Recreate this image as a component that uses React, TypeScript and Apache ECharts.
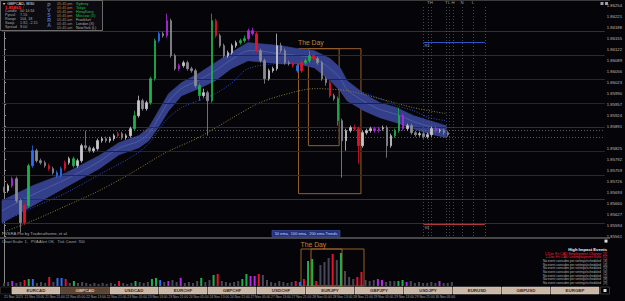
import React, { useEffect, useRef } from "react";
import * as echarts from "echarts";

// Prices are stored in points (0.00001) above BASE
const BASE = 1.85;
const SLOTS = 148; // chart slots incl. empty right margin (chart shift)

const timeLabels = [
  "21 Nov 2023", "21 Nov 13:00", "21 Nov 21:00", "22 Nov 05:00", "22 Nov 13:00", "22 Nov 21:00",
  "23 Nov 05:00", "23 Nov 13:00", "23 Nov 21:00", "24 Nov 05:00", "24 Nov 13:00", "24 Nov 21:00",
  "27 Nov 05:00", "27 Nov 13:00", "27 Nov 21:00", "28 Nov 05:00", "28 Nov 13:00", "28 Nov 21:00",
  "29 Nov 05:00", "29 Nov 13:00", "29 Nov 21:00", "30 Nov 05:00",
];

const opens = [703, 697, 712, 733, 667, 601, 652, 772, 817, 787, 781, 772, 763, 751, 742, 763, 781, 793, 772, 787, 832, 826, 817, 823, 847, 853, 847, 853, 862, 868, 856, 862, 883, 922, 967, 943, 961, 1033, 1147, 1168, 1162, 1207, 1102, 1063, 1072, 1081, 1063, 1057, 1012, 982, 991, 967, 1207, 1162, 1132, 1102, 1111, 1132, 1141, 1147, 1153, 1177, 1168, 1117, 1087, 1033, 1057, 1063, 1132, 1117, 1081, 1078, 1072, 1057, 1081, 1087, 1102, 1093, 1081, 1033, 1021, 982, 973, 907, 847, 877, 886, 883, 832, 871, 877, 883, 877, 883, 886, 832, 862, 877, 922, 883, 892, 871, 865, 868, 859, 865, 883, 877, 877, 871];
const closes = [697, 712, 733, 667, 601, 652, 772, 817, 787, 781, 772, 763, 751, 742, 763, 781, 793, 772, 787, 832, 826, 817, 823, 847, 853, 847, 853, 862, 868, 856, 862, 883, 922, 967, 943, 961, 1033, 1147, 1168, 1162, 1207, 1102, 1063, 1072, 1081, 1063, 1057, 1012, 982, 991, 967, 1207, 1162, 1132, 1102, 1111, 1132, 1141, 1147, 1153, 1177, 1168, 1117, 1087, 1033, 1057, 1063, 1132, 1117, 1081, 1078, 1072, 1057, 1081, 1087, 1102, 1093, 1081, 1033, 1021, 982, 973, 907, 847, 877, 886, 883, 832, 871, 877, 883, 877, 883, 886, 832, 862, 877, 922, 883, 892, 871, 865, 868, 859, 865, 883, 877, 877, 871, 865];
const highs = [709, 718, 739, 739, 673, 658, 778, 832, 823, 793, 787, 778, 769, 757, 769, 787, 799, 799, 793, 838, 877, 832, 829, 853, 859, 859, 859, 868, 874, 874, 868, 889, 937, 982, 973, 967, 1039, 1153, 1174, 1174, 1228, 1213, 1108, 1078, 1087, 1087, 1069, 1063, 1018, 1003, 997, 1228, 1213, 1168, 1138, 1117, 1138, 1147, 1153, 1162, 1183, 1186, 1174, 1123, 1093, 1063, 1069, 1168, 1141, 1123, 1087, 1084, 1078, 1087, 1093, 1117, 1108, 1099, 1087, 1039, 1027, 988, 979, 913, 883, 892, 895, 889, 877, 883, 889, 889, 889, 892, 892, 868, 883, 946, 928, 898, 898, 877, 874, 874, 871, 889, 889, 883, 883, 877];
const lows = [691, 691, 706, 661, 571, 595, 646, 766, 781, 775, 766, 757, 745, 736, 736, 757, 775, 766, 766, 781, 820, 811, 811, 817, 841, 841, 841, 847, 856, 850, 850, 856, 877, 916, 937, 937, 955, 1027, 1141, 1156, 1156, 1096, 1057, 1057, 1066, 1057, 1051, 1006, 967, 976, 862, 961, 1156, 1126, 1096, 1096, 1105, 1126, 1135, 1141, 1147, 1162, 1111, 1081, 1018, 1027, 1051, 1057, 1111, 1075, 1072, 1066, 1051, 1051, 1075, 1081, 1087, 1075, 1027, 1012, 976, 967, 892, 736, 817, 871, 877, 778, 826, 865, 871, 871, 871, 877, 796, 826, 856, 871, 877, 877, 865, 859, 859, 853, 853, 859, 871, 871, 865, 859];
const volumes = [300, 400, 500, 300, 400, 600, 700, 700, 300, 400, 300, 900, 400, 800, 800, 700, 300, 500, 300, 400, 300, 200, 300, 200, 300, 200, 300, 200, 500, 300, 200, 300, 500, 400, 300, 400, 700, 800, 600, 400, 500, 600, 400, 800, 300, 400, 300, 500, 800, 400, 600, 1100, 1200, 500, 400, 300, 400, 500, 700, 1200, 1000, 1000, 1200, 1100, 600, 400, 300, 500, 400, 300, 400, 500, 400, 700, 2500, 2700, 500, 2100, 2400, 2800, 3200, 2600, 3300, 1500, 900, 700, 900, 1400, 600, 500, 600, 700, 600, 400, 500, 500, 500, 600, 400, 500, 300, 400, 300, 300, 400, 300, 500, 300, 300, 400];
// PVSRA class: 0 normal, 1 climax bull, 2 climax bear, 3 rising bull, 4 rising bear
const pvsra = [0, 0, 4, 0, 0, 2, 1, 3, 0, 0, 0, 2, 0, 3, 3, 2, 0, 1, 0, 0, 0, 0, 0, 0, 0, 0, 0, 0, 2, 0, 0, 0, 1, 0, 0, 0, 1, 1, 3, 0, 4, 0, 0, 4, 0, 0, 0, 0, 1, 0, 0, 1, 2, 0, 0, 0, 0, 0, 1, 1, 4, 4, 2, 0, 0, 0, 0, 0, 0, 0, 0, 2, 3, 2, 1, 1, 2, 0, 0, 0, 2, 0, 1, 0, 0, 0, 2, 2, 0, 0, 0, 4, 4, 0, 0, 0, 1, 1, 4, 0, 0, 0, 0, 0, 0, 0, 4, 0, 0, 0];

// 50 ema ribbon: [slot, upper, lower]
const ribbon = [
  [-0.5, 667, 601], [7.05, 712, 652], [15.32, 751, 709], [23.36, 802, 763], [28.22, 841, 805],
  [33.09, 862, 826], [35.53, 886, 847], [37.96, 937, 889], [40.4, 988, 937], [43.56, 1021, 982],
  [47.7, 1048, 1003], [51.84, 1081, 1027], [55.73, 1111, 1063], [59.87, 1141, 1087], [67.9, 1132, 1078],
  [72.04, 1123, 1078], [76.18, 1117, 1066], [80.07, 1093, 1027], [82.5, 1066, 997], [84.21, 1027, 967],
  [88.35, 988, 937], [92.25, 961, 916], [96.38, 946, 901], [100.52, 922, 883], [104.42, 907, 868],
  [108.56, 892, 856],
];
const ema100 = [
  [-0.5, 601], [7.05, 646], [15.32, 691], [23.36, 745], [31.39, 799], [35.53, 838], [39.66, 907],
  [43.56, 946], [47.7, 967], [51.84, 988], [55.73, 1018], [59.87, 1063], [67.9, 1078], [76.18, 1078],
  [80.07, 1057], [84.21, 1012], [88.35, 991], [92.25, 973], [96.38, 952], [100.52, 937], [104.42, 916],
  [108.56, 907],
];
const ema200 = [
  [-0.5, 571], [7.05, 607], [15.32, 652], [23.36, 697], [31.39, 751], [39.66, 811], [47.7, 856],
  [55.73, 913], [62.3, 958], [67.9, 982], [76.18, 1003], [84.21, 997], [92.25, 973], [100.52, 946],
  [108.56, 928],
];

const pivotLevels = [1174, 1102, 1030, 958, 886, 814, 742, 670, 598];
const pivotColors = ["#1c3556", "#123a2b", "#153131", "#1b2a30", "#1c3546", "#1f2830", "#133828", "#3a3418", "#1a3152"];
const dottedLevels = [877, 856];
const sessionSlots = [102.96, 104.18, 104.9, 108.56, 109.29, 110.26, 112.45, 115.13, 118.05];
const sessionTags = ["", "T", "H", "T", "L", "H", "N", "L", ""];
const resistance = { from: 102.96, to: 118.05, value: 1141, name: "R3" };
const support = { from: 102.96, to: 118.05, value: 595, name: "S3" };
const dayOuter = { from: 72.29, to: 87.62, high: 1123, low: 688 };
const dayInner = { from: 74.72, to: 82.27, high: 1123, low: 832 };
const dayVolTop = 3700;

const tabs = ["EURCAD", "GBPCAD", "USDCAD", "EURCHF", "GBPCHF", "USDCHF", "EURJPY", "GBPJPY", "USDJPY", "EURUSD", "GBPUSD", "EURGBP"];
const activeTab = "GBPCAD";
const hotEvents = ["1-Dec Fri CAD Employment Change  [1]", "1-Dec Fri CAD Unemployment Rate  [2]"];
const idleEvents = ["[3]", "[4]", "[5]", "[6]", "[7]", "[8]", "[9]"];
const infoRows = [["Candle", "00:14:34"], ["Pipval", "7.16"], ["Range", "104, 18"], ["Swap", "1.92, -2.15"], ["Spread", "9.00"]];
const sessions = ["Sydney", "Tokyo", "HongKong", "Moscow (X)", "Frankfurt", "London (X)", "NewYork (L)"];
const sessionTimes = ["05:45 pm", "05:45 pm", "05:45 pm", "05:45 pm", "05:45 am", "05:45 am", "05:45 am"];

const FONT = "Liberation Sans, Arial, sans-serif";
const PV: Record<number, string> = { 1: "#1fb04c", 2: "#e3132f", 3: "#2a6ff0", 4: "#b02ae0" };
const fmtPrice = (v: number) => (BASE + v / 100000).toFixed(5);

function txt(x: number, y: number, text: string, fill: string, size: number, opts: any = {}) {
  const align = opts.align || "left";
  const weight = opts.weight || "normal";
  return {
    type: "text",
    x,
    y,
    silent: true,
    z: 100,
    style: {
      text,
      fill,
      font: `${weight} ${size}px ${opts.family || FONT}`,
      align,
      textAlign: align,
      verticalAlign: "middle",
      textVerticalAlign: "middle",
    },
  };
}

export default function App() {
  const ref = useRef<HTMLDivElement>(null);
  useEffect(() => {
    document.body.style.margin = "0";
    document.body.style.background = "#050509";
    const chart = echarts.init(ref.current!, null, { renderer: "svg" });
    const slots = Array.from({ length: SLOTS }, (_, i) => String(i));
    const last = closes[closes.length - 1];

    const candleData = closes.map((c, i) => {
      const item: any = { value: [opens[i], c, lows[i], highs[i]] };
      const col = PV[pvsra[i]];
      if (col) item.itemStyle = { color: col, color0: col, borderColor: col, borderColor0: col };
      return item;
    });
    const volData = volumes.map((v, i) => ({ value: v, itemStyle: { color: PV[pvsra[i]] || "#474758" } }));

    const graphics: any[] = [];
    graphics.push({ type: "rect", silent: true, z: 90, shape: { x: 0, y: 0, width: 610, height: 1 }, style: { fill: "#3c3c3c" } });
    // info panel
    graphics.push({ type: "rect", silent: true, z: 95, shape: { x: 0.5, y: 0.5, width: 102, height: 30 }, style: { fill: "#0b0b11", stroke: "#6a6a6a", lineWidth: 1 } });
    graphics.push(txt(3, 3.3, "▾  GBPCAD, M30", "#e4e4e4", 4));
    graphics.push(txt(5, 7.3, fmtPrice(last) + " ↑", "#ff2a2a", 4.4, { weight: "bold" }));
    infoRows.forEach((r, k) => {
      graphics.push(txt(5, 11.3 + k * 4, r[0], "#a8a8a8", 3.7));
      graphics.push(txt(20, 11.3 + k * 4, r[1], "#a8a8a8", 3.7));
    });
    ["P", "V", "S", "R", "A"].forEach((ch, k) => graphics.push(txt(49, 5.3 + k * 5, ch, "#4a70e6", 5.2, { weight: "bold", align: "center" })));
    sessions.forEach((s, k) => {
      const y = 3.7 + k * 4;
      graphics.push(txt(57, y, sessionTimes[k], k < 4 ? "#c08444" : "#a09080", 3.7));
      graphics.push(txt(76, y, s, k < 4 ? "#2cbd4e" : "#b4b4b4", 3.7));
    });
    graphics.push({ type: "rect", silent: true, z: 95, shape: { x: 600.5, y: 2, width: 3, height: 3 }, style: { fill: "#9c9cab" } });
    graphics.push({ type: "rect", silent: true, z: 95, shape: { x: 605, y: 2, width: 3, height: 3 }, style: { fill: "#9c9cab" } });
    // bottom of main pane
    graphics.push(txt(2, 233.8, "PVSRA Pro by Traderathome, et al.", "#a8a8a8", 4.2));
    graphics.push({ type: "rect", silent: true, z: 95, shape: { x: 272, y: 230.5, width: 68, height: 6 }, style: { fill: "#24327a", stroke: "#4658b0", lineWidth: 0.6 } });
    graphics.push(txt(306, 233.6, "50 ema,  100 ema,  200 ema Trends", "#cdd6ff", 3.9, { align: "center" }));
    graphics.push({ type: "rect", silent: true, z: 95, shape: { x: 0, y: 237.2, width: 610, height: 1.5 }, style: { fill: "#5e5e5e" } });
    // volume pane header
    graphics.push(txt(2, 241.6, "Chart Scale: 1,   PVA Alert Off,   Tick Count: 700", "#a8a8a8", 3.9));
    graphics.push({ type: "rect", silent: true, z: 95, shape: { x: 604.5, y: 239.6, width: 3, height: 3 }, style: { fill: "#dcdcdc" } });
    // events
    graphics.push(txt(607, 249.6, "High Impact Events", "#f2f2f2", 4.2, { align: "right", weight: "bold" }));
    hotEvents.forEach((e, k) => graphics.push(txt(607, 253.6 + k * 3.8, e, "#ff2038", 3.5, { align: "right" })));
    idleEvents.forEach((e, k) => graphics.push(txt(607, 261 + k * 3.6, "No event coincides per settings/scheduled   " + e, "#b8b8b8", 3.1, { align: "right" })));
    // tab bar
    graphics.push({ type: "rect", silent: true, z: 95, shape: { x: 0, y: 286.4, width: 610, height: 8.2 }, style: { fill: "#000000" } });
    graphics.push({ type: "rect", silent: true, z: 96, shape: { x: 0.5, y: 287, width: 11, height: 7 }, style: { fill: "#050505", stroke: "#3a3a3a", lineWidth: 0.6 } });
    tabs.forEach((t, k) => {
      const x = 12 + k * 49;
      const active = t === activeTab;
      graphics.push({ type: "rect", silent: true, z: 96, shape: { x, y: 287, width: 48, height: 7 }, style: { fill: active ? "#5c4535" : "#cbb7a6", stroke: active ? "#7a6252" : "#e1d3c6", lineWidth: 0.5 } });
      graphics.push(txt(x + 24, 290.6, t, active ? "#dccbb8" : "#3b2a20", 4.4, { align: "center", weight: "bold" }));
    });
    graphics.push({ type: "rect", silent: true, z: 96, shape: { x: 600.5, y: 287, width: 9, height: 7 }, style: { fill: "#000", stroke: "#6a6a6a", lineWidth: 0.5 } });
    graphics.push({ type: "rect", silent: true, z: 97, shape: { x: 603.5, y: 289, width: 3, height: 3 }, style: { fill: "#e0e0e0" } });

    const option: any = {
      animation: false,
      backgroundColor: "#050509",
      textStyle: { fontFamily: FONT },
      grid: [
        { left: 2, top: 5, width: 608, height: 231 },
        { left: 2, top: 239, width: 608, height: 47 },
      ],
      xAxis: [
        { type: "category", gridIndex: 0, data: slots, boundaryGap: true, show: false },
        { type: "value", gridIndex: 0, min: -0.5, max: SLOTS - 0.5, show: false },
        {
          type: "category", gridIndex: 1, data: slots, boundaryGap: true,
          axisLine: { show: false }, axisTick: { show: false }, splitLine: { show: false },
          axisLabel: {
            interval: (i: number) => i % 5 === 0 && i / 5 < timeLabels.length,
            formatter: (v: string) => timeLabels[Number(v) / 5] ?? "",
            color: "#a8a8a8", fontSize: 3.3, align: "left", margin: 9.5,
          },
        },
        { type: "value", gridIndex: 1, min: -0.5, max: SLOTS - 0.5, show: false },
      ],
      yAxis: [
        {
          type: "value", gridIndex: 0, position: "right", min: 561, max: 1254, interval: 33,
          splitLine: { show: false },
          axisLine: { show: true, lineStyle: { color: "#8a8a8a", width: 1 } },
          axisTick: { show: true, length: 2, lineStyle: { color: "#8a8a8a" } },
          axisLabel: {
            color: "#bdbdbd", fontSize: 4.2, margin: 2,
            formatter: (v: number) => (Math.abs(v - last) < 14 ? "" : fmtPrice(v)),
          },
        },
        {
          type: "value", gridIndex: 1, position: "right", min: 0, max: 4700,
          axisLine: { show: true, lineStyle: { color: "#8a8a8a", width: 1 } },
          axisLabel: { show: false }, axisTick: { show: false }, splitLine: { show: false },
        },
      ],
      series: [
        {
          name: "levels", type: "line", xAxisIndex: 1, yAxisIndex: 0, data: [[-0.5, 561]],
          symbol: "none", lineStyle: { opacity: 0 }, z: 1, silent: true,
          markLine: {
            symbol: ["none", "none"], silent: true, animation: false,
            label: { show: false },
            data: [
              ...pivotLevels.map((v, k) => ({ yAxis: v, lineStyle: { color: pivotColors[k], width: 1, type: "solid" } })),
              ...dottedLevels.map((v) => ({ yAxis: v, lineStyle: { color: "#6e6e74", width: 0.8, type: [1, 2] } })),
              ...sessionSlots.map((s, k) => ({
                xAxis: s,
                lineStyle: { color: "#55555e", width: 0.8, type: [1, 2] },
                label: { show: sessionTags[k] !== "", formatter: sessionTags[k], position: "end", color: "#a0a0a0", fontSize: 4.3, distance: 0.5 },
              })),
              [
                { coord: [resistance.from, resistance.value], lineStyle: { color: "#2c56c8", width: 1, type: "solid" }, label: { show: true, formatter: resistance.name, position: "insideStartBottom", color: "#9a9aa6", fontSize: 4, distance: 1 } },
                { coord: [resistance.to, resistance.value] },
              ],
              [
                { coord: [support.from, support.value], lineStyle: { color: "#b03838", width: 1, type: "solid" }, label: { show: true, formatter: support.name, position: "insideStartBottom", color: "#9a9aa6", fontSize: 4, distance: 1 } },
                { coord: [support.to, support.value] },
              ],
            ],
          },
        },
        {
          name: "ribbon", type: "custom", xAxisIndex: 1, yAxisIndex: 0, data: ribbon, z: 2, silent: true,
          encode: { x: 0, y: [1, 2] },
          renderItem: (params: any, api: any) => {
            if (params.dataIndex !== 0) return null;
            const top = ribbon.map((p) => api.coord([p[0], p[1]]));
            const bot = ribbon.map((p) => api.coord([p[0], p[2]]));
            const mid = top.map((t: number[], k: number) => [t[0], t[1] * 0.55 + bot[k][1] * 0.45]);
            return {
              type: "group",
              children: [
                { type: "polygon", shape: { points: [...top, ...bot.slice().reverse()] }, style: { fill: "#333f88", stroke: "#3d4a9a", lineWidth: 0.6 } },
                { type: "polyline", shape: { points: mid, smooth: 0.3 }, style: { stroke: "#6f7cc2", lineWidth: 0.6, fill: null, opacity: 0.75 } },
              ],
            };
          },
        },
        {
          name: "100 ema", type: "line", xAxisIndex: 1, yAxisIndex: 0, data: ema100, z: 3, silent: true,
          symbol: "none", smooth: 0.3, lineStyle: { color: "#2e4ccc", width: 1, type: [1, 1.6] },
        },
        {
          name: "200 ema", type: "line", xAxisIndex: 1, yAxisIndex: 0, data: ema200, z: 3, silent: true,
          symbol: "none", smooth: 0.3, lineStyle: { color: "#8f7f3c", width: 1, type: [1, 1.6] },
        },
        {
          name: "GBPCAD", type: "candlestick", xAxisIndex: 0, yAxisIndex: 0, data: candleData, z: 5, silent: true,
          barWidth: 2,
          itemStyle: { color: "#c6c6cc", color0: "#8a8a92", borderColor: "#c6c6cc", borderColor0: "#8a8a92", borderWidth: 0.8 },
        },
        {
          name: "day", type: "line", xAxisIndex: 1, yAxisIndex: 0, data: [[-0.5, 561]], symbol: "none",
          lineStyle: { opacity: 0 }, z: 8, silent: true,
          markLine: {
            symbol: ["none", "none"], silent: true,
            data: [{
              yAxis: last, lineStyle: { opacity: 0 },
              label: { show: true, position: "end", formatter: fmtPrice(last), backgroundColor: "#bdbdbd", color: "#0a0a0a", fontSize: 4.2, padding: [0.8, 1.2], distance: 1.5 },
            }],
          },
          markArea: {
            silent: true,
            itemStyle: { color: "rgba(0,0,0,0)", borderColor: "#94612b", borderWidth: 1 },
            data: [
              [{ name: "The Day", coord: [dayOuter.from, dayOuter.high], label: { show: true, position: [0, -9], color: "#c58035", fontSize: 6.8 } }, { coord: [dayOuter.to, dayOuter.low] }],
              [{ name: "", coord: [dayInner.from, dayInner.high], label: { show: false } }, { coord: [dayInner.to, dayInner.low] }],
            ],
          },
        },
        {
          name: "volume", type: "bar", xAxisIndex: 2, yAxisIndex: 1, data: volData, barWidth: 2, z: 5, silent: true,
        },
        {
          name: "dayVol", type: "line", xAxisIndex: 3, yAxisIndex: 1, data: [[-0.5, 0]], symbol: "none",
          lineStyle: { opacity: 0 }, z: 8, silent: true,
          markArea: {
            silent: true,
            itemStyle: { color: "rgba(0,0,0,0)", borderColor: "#94612b", borderWidth: 1 },
            data: [
              [{ name: "The Day", coord: [dayOuter.from, dayVolTop], label: { show: true, position: [0, -8], color: "#c58035", fontSize: 6.8 } }, { coord: [dayOuter.to, 0] }],
              [{ name: "", coord: [dayInner.from, dayVolTop], label: { show: false } }, { coord: [dayInner.to, 0] }],
            ],
          },
        },
      ],
      graphic: graphics,
    };
    chart.setOption(option);
    return () => chart.dispose();
  }, []);
  return <div ref={ref} style={{ width: 625, height: 301, background: "#050509" }} />;
}
